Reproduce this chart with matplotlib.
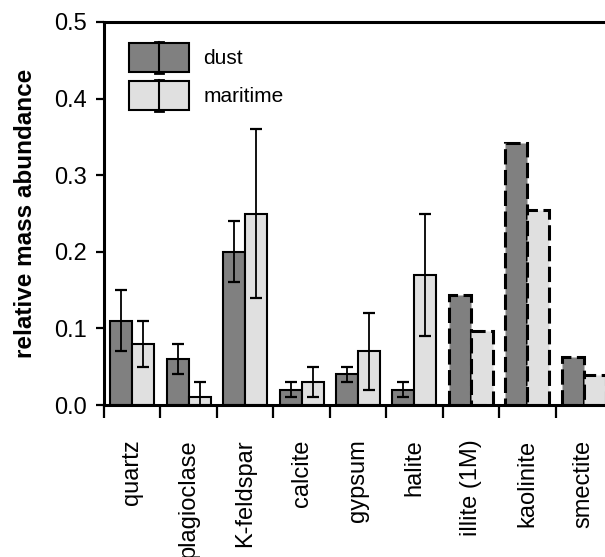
import numpy as np
import matplotlib
matplotlib.use("Agg")
import matplotlib.pyplot as plt
from matplotlib.patches import Rectangle
from matplotlib.lines import Line2D
from matplotlib.legend_handler import HandlerBase

plt.rcParams['font.family'] = ['Liberation Sans', 'DejaVu Sans']

# data
minerals = ['quartz', 'plagioclase', 'K-feldspar', 'calcite', 'gypsum',
            'halite', 'illite (1M)', 'kaolinite', 'smectite']
dust = [0.11, 0.06, 0.20, 0.02, 0.04, 0.02, 0.144, 0.342, 0.063]
dust_err = [0.04, 0.02, 0.04, 0.01, 0.01, 0.01, 0, 0, 0]
maritime = [0.08, 0.01, 0.25, 0.03, 0.07, 0.17, 0.097, 0.254, 0.039]
maritime_err = [0.03, 0.02, 0.11, 0.02, 0.05, 0.08, 0, 0, 0]
n_measured = 6  # the clay minerals (last three) have no error bars

dust_col = '#808080'
mar_col = '#e0e0e0'


class BarErrHandler(HandlerBase):
    # legend key: filled box with a vertical error bar through it
    def create_artists(self, legend, orig, xd, yd, w, h, fs, trans):
        rect = Rectangle((-xd, -yd), w, h, facecolor=orig.get_facecolor(),
                         edgecolor='k', lw=1.5, transform=trans)
        cx = -xd + w / 2
        y0, y1 = -yd - 0.8, -yd + h + 0.8
        vline = Line2D([cx, cx], [y0, y1], color='k', lw=1.5, transform=trans)
        cap0 = Line2D([cx - 3, cx + 3], [y0, y0], color='k', lw=2, transform=trans)
        cap1 = Line2D([cx - 3, cx + 3], [y1, y1], color='k', lw=2, transform=trans)
        return [rect, vline, cap0, cap1]


fig = plt.figure(figsize=(6.05, 5.57), dpi=100)
ax = fig.add_axes([104 / 605, 1 - 405 / 557, 508 / 605, 383 / 557])

x = np.arange(len(minerals))
w = 0.39
dashes = (0, (5, 1.8))

m = n_measured
b1 = ax.bar(x[:m] - w / 2, dust[:m], w, color=dust_col, edgecolor='k', lw=1.5, zorder=2)
b2 = ax.bar(x[:m] + w / 2, maritime[:m], w, color=mar_col, edgecolor='k', lw=1.5, zorder=2)
ax.bar(x[m:] - w / 2, dust[m:], w, color=dust_col, edgecolor='k', lw=2.2,
       linestyle=dashes, zorder=2)
ax.bar(x[m:] + w / 2, maritime[m:], w, color=mar_col, edgecolor='k', lw=2.2,
       linestyle=dashes, zorder=2)

ax.errorbar(x[:m] - w / 2, dust[:m], yerr=dust_err[:m], fmt='none', ecolor='k',
            elinewidth=1.3, capsize=4.5, capthick=1.6, zorder=3)
ax.errorbar(x[:m] + w / 2, maritime[:m], yerr=maritime_err[:m], fmt='none', ecolor='k',
            elinewidth=1.3, capsize=4.5, capthick=1.6, zorder=3)

ax.set_xlim(-0.5, len(minerals) - 0.5)
ax.set_ylim(0, 0.5)
ax.set_yticks([0.0, 0.1, 0.2, 0.3, 0.4, 0.5])
ax.set_yticklabels(['0.0', '0.1', '0.2', '0.3', '0.4', '0.5'])
ax.set_xticks(x)
ax.set_xticklabels(minerals, rotation=90)
ax.set_xticks(np.arange(len(minerals) + 1) - 0.5, minor=True)
ax.tick_params(axis='x', which='major', length=0, pad=25, labelsize=17)
ax.tick_params(axis='x', which='minor', length=9, width=1.6, direction='out')
ax.tick_params(axis='y', length=6, width=1.6, direction='out', labelsize=17, pad=6.5)

for s in ax.spines.values():
    s.set_linewidth(2.2)

ax.set_ylabel('relative mass abundance', fontsize=17.5, fontweight='bold')
ax.yaxis.set_label_coords(-0.131, 0.5)

ax.legend([b1.patches[0], b2.patches[0]], ['dust', 'maritime'],
          handler_map={type(b1.patches[0]): BarErrHandler()},
          loc='upper left', bbox_to_anchor=(0.049, 0.945), frameon=False,
          fontsize=15, handlelength=2.9, handleheight=1.766, labelspacing=0.43,
          handletextpad=0.67, borderpad=0, borderaxespad=0)

fig.savefig('out.png', dpi=100)
